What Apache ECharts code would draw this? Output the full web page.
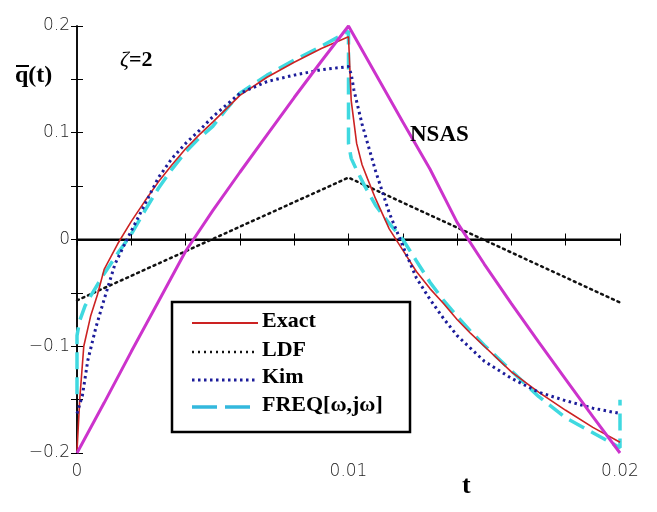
<!DOCTYPE html>
<html>
<head>
<meta charset="utf-8">
<script src="https://cdn.jsdelivr.net/npm/echarts@6/dist/echarts.min.js"></script>
<style>html,body{margin:0;padding:0;background:#fff;}#c{width:657px;height:512px;}</style>
</head>
<body>
<div id="c"></div>
<script>
// ---- data ----
const exactT = [0, 0.0001, 0.00025, 0.0005, 0.00075, 0.001, 0.0015, 0.002, 0.0025, 0.003, 0.0035, 0.004, 0.0045, 0.005, 0.006, 0.007, 0.008, 0.009, 0.01, 0.0101, 0.0103, 0.0105, 0.0107, 0.011, 0.0115, 0.012, 0.0125, 0.013, 0.0135, 0.014, 0.0145, 0.015, 0.016, 0.017, 0.018, 0.019, 0.02];
const exactQ = [-0.198, -0.15, -0.1, -0.072, -0.052, -0.028, -0.004, 0.017, 0.036, 0.054, 0.07, 0.085, 0.098, 0.11, 0.135, 0.152, 0.166, 0.179, 0.19, 0.13, 0.09, 0.07, 0.057, 0.038, 0.01, -0.01, -0.03, -0.046, -0.06, -0.075, -0.088, -0.1, -0.124, -0.143, -0.16, -0.176, -0.19];

const ldfT = [0, 0.01, 0.02];
const ldfQ = [-0.057, 0.058, -0.059];

const kimT = [0, 0.0002, 0.0004, 0.0007, 0.001, 0.0014, 0.0018, 0.0025, 0.003, 0.0035, 0.004, 0.0045, 0.005, 0.006, 0.007, 0.008, 0.009, 0.01, 0.0101, 0.0102, 0.0105, 0.011, 0.0115, 0.012, 0.0125, 0.013, 0.0135, 0.014, 0.015, 0.016, 0.017, 0.018, 0.019, 0.02];
const kimQ = [-0.163, -0.146, -0.113, -0.082, -0.056, -0.023, -0.002, 0.033, 0.058, 0.076, 0.09, 0.102, 0.115, 0.137, 0.148, 0.154, 0.159, 0.162, 0.155, 0.14, 0.108, 0.064, 0.025, -0.006, -0.036, -0.056, -0.074, -0.09, -0.114, -0.13, -0.143, -0.151, -0.158, -0.163];

const freqT = [0, 0, 0.0001, 0.0003, 0.0005, 0.001, 0.0015, 0.002, 0.0025, 0.003, 0.0035, 0.004, 0.0045, 0.005, 0.0055, 0.006, 0.007, 0.008, 0.009, 0.01, 0.01, 0.0101, 0.0103, 0.0106, 0.011, 0.0115, 0.012, 0.0125, 0.013, 0.0135, 0.014, 0.0145, 0.015, 0.016, 0.017, 0.018, 0.019, 0.02, 0.02];
const freqQ = [-0.145, -0.09, -0.076, -0.062, -0.053, -0.032, -0.013, 0.005, 0.027, 0.048, 0.066, 0.082, 0.095, 0.106, 0.122, 0.137, 0.154, 0.168, 0.181, 0.195, 0.09, 0.076, 0.065, 0.05, 0.032, 0.015, 0, -0.02, -0.04, -0.057, -0.072, -0.086, -0.099, -0.123, -0.147, -0.167, -0.181, -0.195, -0.15];

const nsasT = [0, 0.001, 0.002, 0.003, 0.004, 0.005, 0.006, 0.007, 0.008, 0.009, 0.01, 0.011, 0.012, 0.013, 0.014, 0.015, 0.016, 0.017, 0.018, 0.019, 0.02];
const nsasQ = [-0.2, -0.153, -0.105, -0.058, -0.011, 0.027, 0.063, 0.098, 0.133, 0.167, 0.2, 0.155, 0.11, 0.066, 0.016, -0.023, -0.06, -0.096, -0.131, -0.166, -0.2];

const zeroT = [0, 0.02];
const zeroQ = [0, 0];

const xTickLabels = {0: '0', 5: '0.01', 10: '0.02'};
const yTickLabels = {'-4': '\u22120.2', '-2': '\u22120.1', '0': '0', '2': '0.1', '4': '0.2'};

const legendNames = ['Exact', 'LDF', 'Kim', 'FREQ[\u03c9,j\u03c9]'];

// ---- helpers ----
const zip = (a, b) => a.map((v, i) => [v, b[i]]);

const C_RED = '#cc2222', C_BLK = '#111111', C_KIM = '#1c1c9a', C_CYAN = '#3fd9e0', C_MAG = '#cc33cc';

const chart = echarts.init(document.getElementById('c'), null, {renderer: 'canvas'});

const tickFont = {fontFamily: 'DejaVu Sans', fontSize: 17, fontWeight: 200, color: '#222'};

const xCommon = {
  type: 'value', min: 0, max: 0.02, interval: 0.002,
  axisLine: {show: true, lineStyle: {color: '#000', width: 1.5}},
  axisTick: {show: true, inside: true, length: 6, lineStyle: {color: '#000', width: 1}},
  splitLine: {show: false}
};
const yCommon = {
  type: 'value', min: -0.2, max: 0.2, interval: 0.05,
  axisLine: {show: true, lineStyle: {color: '#000', width: 1.5}},
  axisTick: {show: true, inside: true, length: 6, lineStyle: {color: '#000', width: 1}},
  splitLine: {show: false}
};

const option = {
  animation: false,
  backgroundColor: '#fff',
  grid: {left: 77, right: 37, top: 26, bottom: 59, containLabel: false},
  xAxis: [
    Object.assign({}, xCommon, {position: 'bottom',
      axisLabel: Object.assign({}, tickFont, {margin: 10, showMinLabel: true, showMaxLabel: true,
        formatter: v => { const k = Math.round(v / 0.002); return xTickLabels[k] !== undefined ? xTickLabels[k] : ''; }})}),
    Object.assign({}, xCommon, {position: 'top', axisLabel: {show: false}})
  ],
  yAxis: [
    Object.assign({}, yCommon, {position: 'left',
      axisLabel: Object.assign({}, tickFont, {margin: 7, showMinLabel: true, showMaxLabel: true,
        formatter: v => { const k = String(Math.round(v / 0.05)); return yTickLabels[k] !== undefined ? yTickLabels[k] : ''; }})}),
    Object.assign({}, yCommon, {position: 'right', axisLabel: {show: false}})
  ],
  series: [
    {name: 'zero', type: 'line', data: zip(zeroT, zeroQ), symbol: 'none', silent: true,
      lineStyle: {color: '#000', width: 2}, z: 1},
    {name: legendNames[1], type: 'line', data: zip(ldfT, ldfQ), symbol: 'none',
      lineStyle: {color: C_BLK, width: 2.5, type: [2, 4], cap: 'round'}, z: 2},
    {name: legendNames[3], type: 'line', data: zip(freqT, freqQ), symbol: 'none',
      lineStyle: {color: C_CYAN, width: 3.5, type: [17, 8]}, z: 3},
    {name: legendNames[0], type: 'line', data: zip(exactT, exactQ), symbol: 'none',
      lineStyle: {color: C_RED, width: 1.6}, z: 4},
    {name: legendNames[2], type: 'line', data: zip(kimT, kimQ), symbol: 'none',
      lineStyle: {color: C_KIM, width: 3, type: [2.5, 3.5]}, z: 5},
    {name: 'NSAS', type: 'line', data: zip(nsasT, nsasQ), symbol: 'none',
      lineStyle: {color: C_MAG, width: 3}, z: 6}
  ],
  graphic: [
    // legend box
    {type: 'rect', shape: {x: 172, y: 302, width: 238, height: 130},
      style: {fill: '#fff', stroke: '#000', lineWidth: 2.5}, z: 100},
    {type: 'line', shape: {x1: 192, y1: 323, x2: 258, y2: 323}, style: {stroke: C_RED, lineWidth: 1.8}, z: 101},
    {type: 'line', shape: {x1: 192, y1: 352, x2: 258, y2: 352}, style: {stroke: C_BLK, lineWidth: 2.5, lineDash: [2, 4]}, z: 101},
    {type: 'line', shape: {x1: 192, y1: 380, x2: 258, y2: 380}, style: {stroke: C_KIM, lineWidth: 3, lineDash: [2.5, 3.5]}, z: 101},
    {type: 'line', shape: {x1: 192, y1: 407, x2: 258, y2: 407}, style: {stroke: '#33b8dd', lineWidth: 3.5, lineDash: [25, 8]}, z: 101},
    {type: 'text', left: 262, top: 310, style: {text: legendNames[0], font: 'bold 22px "Liberation Serif"', fill: '#000'}, z: 101},
    {type: 'text', left: 262, top: 339, style: {text: legendNames[1], font: 'bold 22px "Liberation Serif"', fill: '#000'}, z: 101},
    {type: 'text', left: 262, top: 366, style: {text: legendNames[2], font: 'bold 22px "Liberation Serif"', fill: '#000'}, z: 101},
    {type: 'text', left: 262, top: 394, style: {text: legendNames[3], font: 'bold 22px "Liberation Serif"', fill: '#000'}, z: 101},
    // annotations
    {type: 'text', left: 410, top: 124, style: {text: 'NSAS', font: 'bold 23px "Liberation Serif"', fill: '#000'}, z: 101},
    {type: 'text', left: 120, top: 49, style: {
      text: '{a|\u03b6}{b|=2}',
      rich: {a: {font: 'italic 22px "Liberation Serif"', fill: '#000'}, b: {font: 'bold 22px "Liberation Serif"', fill: '#000'}}
    }, z: 101},
    {type: 'text', left: 15, top: 64, style: {text: 'q(t)', font: 'bold 24px "Liberation Serif"', fill: '#000'}, z: 101},
    {type: 'line', shape: {x1: 16, y1: 66, x2: 29, y2: 66}, style: {stroke: '#000', lineWidth: 2}, z: 101},
    {type: 'text', left: 462, top: 473, style: {text: 't', font: 'bold 26px "Liberation Serif"', fill: '#000'}, z: 101}
  ]
};
chart.setOption(option);
</script>
</body>
</html>
